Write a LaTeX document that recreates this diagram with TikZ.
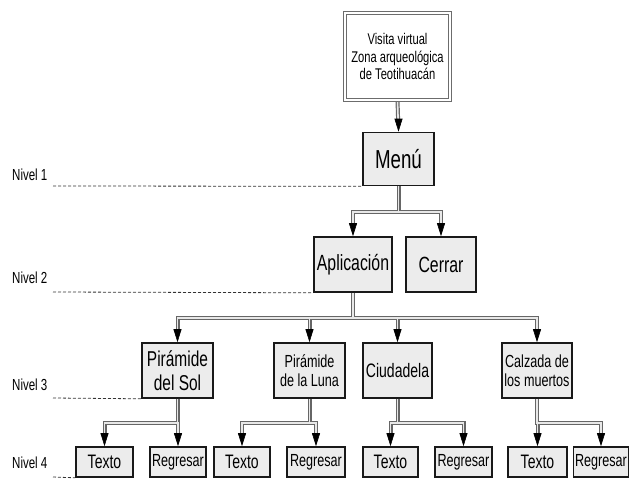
\documentclass[tikz,border=0pt]{standalone}
\usepackage{fontspec}
\setmainfont{Liberation Sans}[FakeStretch=0.72]
\usetikzlibrary{arrows.meta,backgrounds}
\newcommand\fs[1]{\fontsize{#1}{1.1\dimexpr #1pt\relax}\selectfont}
\begin{document}
\begin{tikzpicture}[x=1pt,y=-1pt,
  box/.style={draw=black!90, line width=1.6pt, fill=gray!15, inner sep=0pt, align=center},
  topbox/.style={draw=gray!85!black, double=white, double distance=2pt, line width=1pt, fill=white, inner sep=0pt, align=center, minimum width=105pt, minimum height=87pt},
  lvl/.style={anchor=west, inner sep=0pt, font=\fs{16}},
  nivline/.style={dash pattern=on 3pt off 2pt, line width=0.8pt, black!80},
  tip/.style={-{Triangle[length=13pt,width=8pt]}, line width=0.6pt, black},
  l2/.style={box, minimum height=55pt, font=\fs{22}},
  l3/.style={box, minimum height=55pt},
  l4/.style={box, minimum height=30pt},
]
\useasboundingbox (0,0) rectangle (630,479);
% nodes
\node[topbox, font=\fs{15.5}] (top) at (397.5,56.5) {Visita virtual\\Zona arqueológica\\de Teotihuacán};
\node[box, minimum width=71pt, minimum height=53pt, font=\fs{26}] (menu) at (398.5,159) {Menú};
\node[l2, minimum width=78pt] (apl) at (353,264.5) {Aplicación};
\node[l2, minimum width=70pt] (cer) at (441,264.5) {Cerrar};
\node[l3, minimum width=71pt, font=\fs{21.5}] (sol) at (177.5,370.5) {Pirámide\\del Sol};
\node[l3, minimum width=71pt, font=\fs{17.5}] (luna) at (309.5,370.5) {Pirámide\\de la Luna};
\node[l3, minimum width=69pt, font=\fs{19.5}] (ciud) at (397.5,370.5) {Ciudadela};
\node[l3, minimum width=70pt, font=\fs{17.5}] (calz) at (537,370.5) {Calzada de\\los muertos};
\node[l4, minimum width=57pt, font=\fs{19.5}] (t1) at (104.5,462) {Texto};
\node[l4, minimum width=56pt, font=\fs{17.5}] (r1) at (178,462) {Regresar};
\node[l4, minimum width=56pt, font=\fs{19.5}] (t2) at (242,462) {Texto};
\node[l4, minimum width=58pt, font=\fs{17.5}] (r2) at (316,462) {Regresar};
\node[l4, minimum width=55pt, font=\fs{19.5}] (t3) at (390.5,462) {Texto};
\node[l4, minimum width=57pt, font=\fs{17.5}] (r3) at (463.5,462) {Regresar};
\node[l4, minimum width=59pt, font=\fs{19.5}] (t4) at (537.5,462) {Texto};
\node[l4, minimum width=55pt, font=\fs{17.5}] (r4) at (601,462) {Regresar};
% level labels
\node[lvl] (nv1) at (12,175) {Nivel 1};
\node[lvl] (nv2) at (12,278) {Nivel 2};
\node[lvl] (nv3) at (12,385) {Nivel 3};
\node[lvl] (nv4) at (12,463) {Nivel 4};
\coordinate (d1) at (53,186);
\coordinate (d2) at (53,292);
\coordinate (d3) at (53,398);
\coordinate (d4) at (53,477);
\draw[nivline] (d1) -- (menu.south west);
\draw[nivline] (d2) -- (apl.south west);
\draw[nivline] (d3) -- (sol.south west);
\draw[nivline] (d4) -- (t1.south west);
% bars
\coordinate (b1) at (0,212);
\coordinate (b2) at (0,318);
\coordinate (b3) at (0,423);
\newcommand\myconns{%
  \draw (top.south) -- (menu.north);
  \draw (menu.south) -- (menu.south |- b1) -| (apl.north);
  \draw (menu.south) -- (menu.south |- b1) -| (cer.north);
  \foreach \c in {sol,luna,ciud,calz}
    \draw (apl.south) -- (apl.south |- b2) -| (\c.north);
  \foreach \p/\c in {sol/t1,sol/r1,luna/t2,luna/r2,ciud/t3,ciud/r3,calz/t4,calz/r4}
    \draw (\p.south) -- (\p.south |- b3) -| (\c.north);
}
\begin{scope}[on background layer]
  \begin{scope}[color=gray!80!black, line width=4pt, shorten >=10pt]
    \myconns
  \end{scope}
  \begin{scope}[color=gray!18, line width=1.6pt, shorten >=10pt]
    \myconns
  \end{scope}
\end{scope}
\foreach \n in {menu,apl,cer,sol,luna,ciud,calz,t1,r1,t2,r2,t3,r3,t4,r4}
  \draw[tip] ([yshift=13pt]\n.north) -- (\n.north);
\end{tikzpicture}
\end{document}
